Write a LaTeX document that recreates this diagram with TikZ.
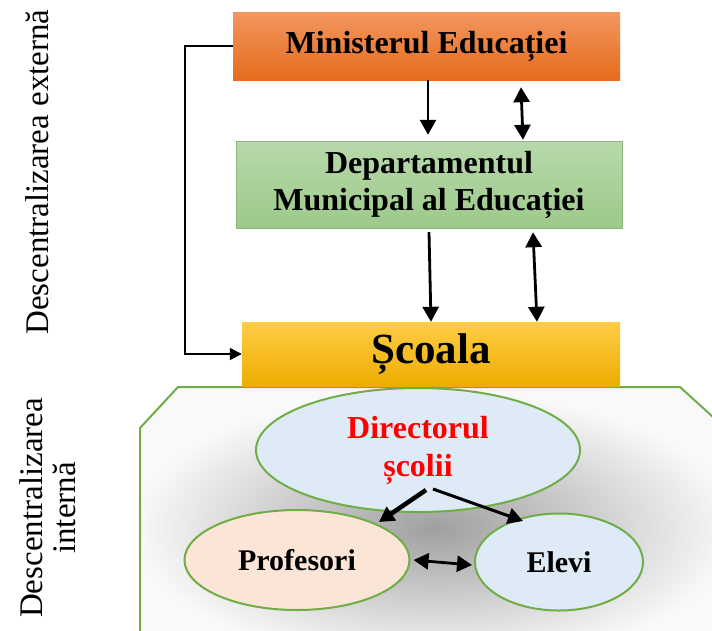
\documentclass[tikz,border=0pt]{standalone}
\usepackage{fontspec}
\setmainfont{Liberation Serif}
\usetikzlibrary{arrows.meta,shapes.geometric}
\definecolor{ovalgreen}{RGB}{112,173,71}
\definecolor{ovalblue}{RGB}{222,235,247}
\definecolor{ovalpeach}{RGB}{251,229,214}
\definecolor{mintop}{RGB}{243,150,96}
\definecolor{minbot}{RGB}{228,108,28}
\definecolor{deptop}{RGB}{184,217,171}
\definecolor{depbot}{RGB}{157,201,138}
\definecolor{scotop}{RGB}{255,204,70}
\definecolor{scobot}{RGB}{236,172,0}
\begin{document}
\begin{tikzpicture}[x=1pt,y=-1pt,
  box/.style={rectangle,inner sep=0pt,align=center,font=\bfseries\fontsize{32}{37}\selectfont},
  oval/.style={ellipse,draw=ovalgreen,line width=2pt,inner sep=0pt,align=center,font=\bfseries\fontsize{30}{38}\selectfont},
  link/.style={-{Triangle[width=16pt,length=15pt]},line width=2.8pt},
  duo/.style={{Triangle[width=16pt,length=15pt]}-{Triangle[width=16pt,length=15pt]},line width=2.8pt},
  side/.style={rotate=90,align=center,font=\fontsize{33}{33}\selectfont}]
  \useasboundingbox (0,0) rectangle (712,630);

  % descentralizarea interna (fond)
  \begin{scope}
    \clip (178,387) -- (680,387) -- (713,417) -- (713,631) -- (140,631) -- (140,428) -- cycle;
    \fill[gray!5] (130,380) rectangle (713,631);
    \shade[inner color=gray!75,outer color=gray!5] (435,528) ellipse [x radius=300,y radius=135];
  \end{scope}
  \draw[ovalgreen,line width=2pt] (713,417) -- (680,387) -- (178,387) -- (140,428) -- (140,631);

  \node[box,minimum width=387pt,minimum height=68pt,top color=mintop,bottom color=minbot] (min) at (426.5,46) {Ministerul Educației};
  \node[box,minimum width=386pt,minimum height=87pt,top color=deptop,bottom color=depbot,draw=depbot!90!black] (dep) at (429,184.5) {Departamentul\\Municipal al Educației};
  \node[box,minimum width=378pt,minimum height=64pt,top color=scotop,bottom color=scobot,font=\bfseries\fontsize{43}{44}\selectfont] (sco) at (431,354) {Școala};

  \node[oval,fill=ovalblue,minimum width=324pt,minimum height=124pt,text=red,font=\bfseries\fontsize{32}{38}\selectfont] (dir) at (418,450) {Directorul\\școlii};
  \node[oval,fill=ovalpeach,minimum width=225pt,minimum height=100pt] (prof) at (297,560) {Profesori};
  \node[oval,fill=ovalblue,minimum width=168pt,minimum height=97pt] (elev) at (559,562) {Elevi};

  \node[side] (ext) at (37,172) {Descentralizarea externă};
  \node[side] (int) at (48,508) {Descentralizarea\\internă};

  \draw[link] ([xshift=1.5pt]min.south) -- ([xshift=-1pt,yshift=6pt]dep.north);
  \draw[duo] ([xshift=94.5pt,yshift=-7pt]min.south) -- ([xshift=94pt,yshift=1pt]dep.north);
  \draw[link] ([yshift=-4pt]dep.south) -- ([xshift=0pt]sco.north);
  \draw[duo] ([xshift=104pt,yshift=-4pt]dep.south) -- ([xshift=106pt]sco.north);
  \draw[-{Triangle[width=12pt,length=12pt]},line width=1.8pt] (min.west) -- ++(-48,0) |- (sco.west);

  \draw[link,line width=4.5pt] ([xshift=8pt,yshift=-40pt]dir.center) -- ([xshift=82pt,yshift=38pt]prof.center);
  \draw[link,line width=3pt] ([xshift=15pt,yshift=-39pt]dir.center) -- ([xshift=-36pt,yshift=41pt]elev.center);
  \draw[duo] ([xshift=3pt]prof.east) -- ([xshift=-2pt,yshift=-3pt]elev.west);
\end{tikzpicture}
\end{document}
